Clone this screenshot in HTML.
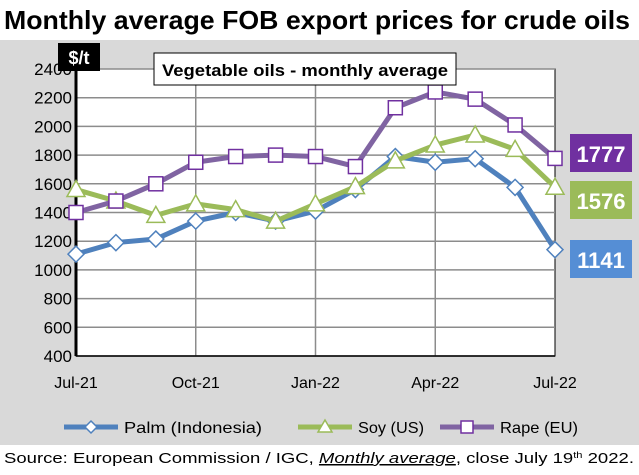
<!DOCTYPE html>
<html><head><meta charset="utf-8"><style>
body{margin:0;width:639px;height:470px;background:#fff;font-family:"Liberation Sans",sans-serif;overflow:hidden}
</style></head><body>
<svg width="639" height="470">
<text x="4" y="29" font-size="26" font-weight="bold" fill="#000" textLength="626" lengthAdjust="spacingAndGlyphs">Monthly average FOB export prices for crude oils</text>
<rect x="0" y="40" width="639" height="405" fill="#d9d9d9"/>
<rect x="76" y="69" width="479" height="287" fill="#fff" stroke="#000" stroke-width="1"/>
<g id="grid"></g><g id="axes"></g><g id="series"></g>
<rect x="58" y="43" width="42" height="28" fill="#000"/>
<text x="79" y="64" font-size="18" font-weight="bold" fill="#fff" text-anchor="middle">$/t</text>
<rect x="154" y="53" width="302" height="32" fill="#fff" stroke="#000"/>
<text x="305" y="76" font-size="17" font-weight="bold" text-anchor="middle" textLength="286" lengthAdjust="spacingAndGlyphs">Vegetable oils - monthly average</text>
<rect x="570" y="134" width="62" height="38" fill="#7030a0"/>
<text x="601" y="162" font-size="22" font-weight="bold" fill="#fff" text-anchor="middle">1777</text>
<rect x="570" y="181" width="62" height="38" fill="#9bbb59"/>
<text x="601" y="209" font-size="22" font-weight="bold" fill="#fff" text-anchor="middle">1576</text>
<rect x="570" y="240" width="62" height="38" fill="#558ed5"/>
<text x="601" y="268" font-size="22" font-weight="bold" fill="#fff" text-anchor="middle">1141</text>
<g>
<line x1="64" y1="427" x2="118" y2="427" stroke="#4f81bd" stroke-width="5"/>
<path d="M91 421 L97 427 L91 433 L85 427Z" fill="#fff" stroke="#4f81bd" stroke-width="1.5"/>
<text x="124" y="433" font-size="16" textLength="138" lengthAdjust="spacingAndGlyphs">Palm (Indonesia)</text>
<line x1="298" y1="427" x2="352" y2="427" stroke="#9bbb59" stroke-width="5"/>
<path d="M325 420 L332 432 L318 432Z" fill="#fff" stroke="#9bbb59" stroke-width="1.5"/>
<text x="358" y="433" font-size="16" textLength="66" lengthAdjust="spacingAndGlyphs">Soy (US)</text>
<line x1="440" y1="427" x2="494" y2="427" stroke="#8064a2" stroke-width="5"/>
<rect x="461" y="421" width="12" height="12" fill="#fff" stroke="#7030a0" stroke-width="1.5"/>
<text x="500" y="433" font-size="16" textLength="78" lengthAdjust="spacingAndGlyphs">Rape (EU)</text>
</g>
<text x="4" y="463" font-size="15" textLength="630" lengthAdjust="spacingAndGlyphs">Source: European Commission / IGC, <tspan font-style="italic" text-decoration="underline">Monthly average</tspan>, close July 19<tspan font-size="9" dy="-5">th</tspan><tspan dy="5"> 2022.</tspan></text>
</svg>
<script>
const months=["Jul-21","Aug-21","Sep-21","Oct-21","Nov-21","Dec-21","Jan-22","Feb-22","Mar-22","Apr-22","May-22","Jun-22","Jul-22"];
const palm=[1110,1190,1215,1340,1400,1340,1410,1560,1790,1750,1775,1575,1141];
const soy=[1560,1480,1380,1460,1420,1340,1460,1580,1760,1870,1940,1840,1576];
const rape=[1400,1480,1600,1750,1790,1800,1790,1720,2130,2240,2190,2010,1777];
const yTicks=[400,600,800,1000,1200,1400,1600,1800,2000,2200,2400];
const xLabelIdx=[0,3,6,9,12];
const NS="http://www.w3.org/2000/svg";
const X0=76,X1=555,Y0=356,Y1=69,YMIN=400,YMAX=2400;
const xs=i=>X0+(X1-X0)*i/(months.length-1);
const ys=v=>Y0-(v-YMIN)/(YMAX-YMIN)*(Y0-Y1);
function mk(t,a,p){const e=document.createElementNS(NS,t);for(const k in a)e.setAttribute(k,a[k]);p.appendChild(e);return e;}
const grid=document.getElementById('grid'),axes=document.getElementById('axes'),ser=document.getElementById('series');
yTicks.forEach(v=>{
 const l=mk('line',{x1:X0,x2:X1,y1:ys(v),y2:ys(v),stroke:'#8c8c8c','stroke-width':1.5},grid);
 
 
 const t=mk('text',{x:X0-4,y:ys(v)+6,'font-size':17,'text-anchor':'end'},axes);
 t.textContent=v;
 
 
});
xLabelIdx.forEach(i=>{
 if(i>0&&i<months.length-1){const l=mk('line',{x1:xs(i),x2:xs(i),y1:Y1,y2:Y0,stroke:'#8c8c8c','stroke-width':1.5},grid);
 
 }
 const t=mk('text',{x:xs(i),y:388,'font-size':16,'text-anchor':'middle'},axes);
 t.textContent=months[i];
 
 
});
const ax=mk('line',{x1:X0,x2:X0,y1:Y1,y2:Y0,stroke:'#000','stroke-width':3},axes);


const bx=mk('line',{x1:X0,x2:X1,y1:Y0,y2:Y0,stroke:'#000','stroke-width':1.5},axes);


function draw(data,color,mcol,shape,name){
 const pl=mk('polyline',{points:data.map((v,i)=>xs(i)+','+ys(v)).join(' '),fill:'none',stroke:color,'stroke-width':5,'stroke-linejoin':'round'},ser);
 
 
 data.forEach((v,i)=>{
  const x=xs(i),y=ys(v);let m;
  if(shape==='d')m=mk('path',{d:`M${x} ${y-8}L${x+8} ${y}L${x} ${y+8}L${x-8} ${y}Z`},ser);
  else if(shape==='t')m=mk('path',{d:`M${x} ${y-9}L${x+9} ${y+7}L${x-9} ${y+7}Z`},ser);
  else m=mk('rect',{x:x-7,y:y-7,width:14,height:14},ser);
  m.setAttribute('fill','#fff');m.setAttribute('stroke',mcol);m.setAttribute('stroke-width','1.5');
  
  
 });
}
draw(palm,'#4f81bd','#4f81bd','d','palm');
draw(soy,'#9bbb59','#9bbb59','t','soy');
draw(rape,'#8064a2','#7030a0','s','rape');
</script>
</body></html>
